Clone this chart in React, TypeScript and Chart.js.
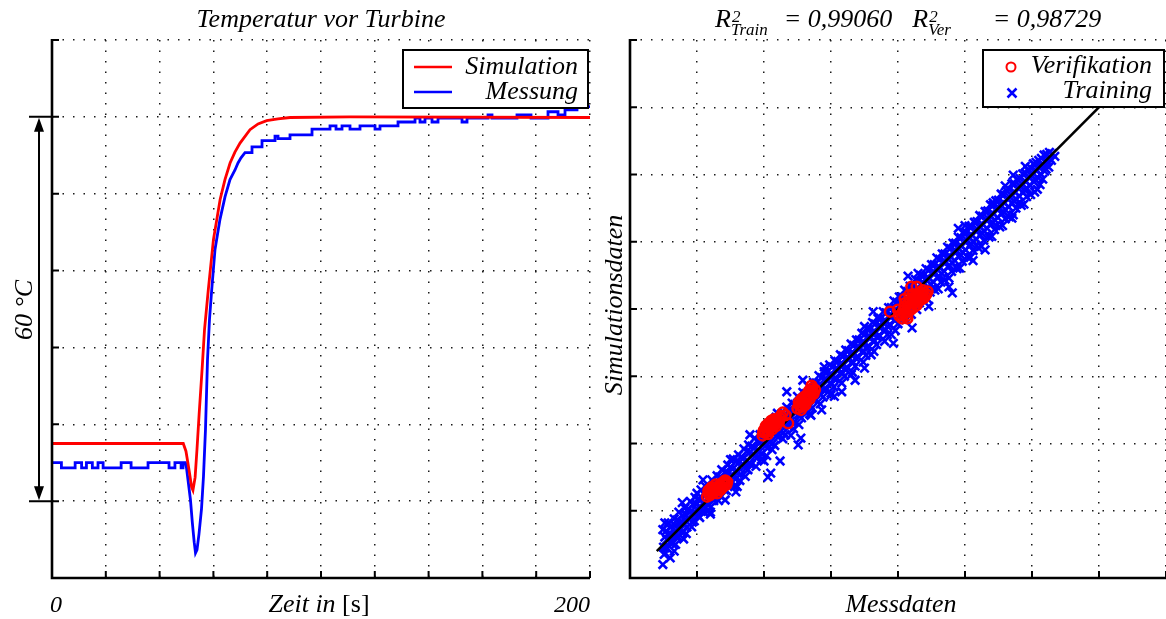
import React, { useEffect, useRef } from 'react';
import { Chart, registerables } from 'chart.js';

Chart.register(...registerables);

const SERIF = '"Liberation Serif", "Times New Roman", Times, serif';
const INK = '#000000';
const RED = '#ff0000';
const BLUE = '#0000ff';

/* ---------------- left panel: Temperatur vor Turbine ---------------- */
const leftTitle = 'Temperatur vor Turbine';
const timeMin = 0;
const timeMax = 200;
const timeStep = 20;
const timeTickLabels = ['0', '200'];
const timeAxisLabel = ['Zeit in ', '[s]'];
const tempMin = 0;
const tempMax = 84;
const tempStep = 12;
const spanValues = [12, 72];
const spanLabel = '60 °C';
const lineNames = ['Simulation', 'Messung'];

// [time s, temperature °C (relative)]
const simCurve: [number, number][] = [
  [0, 21.0], [48.8, 21.0], [49.8, 19.8], [50.9, 17.0], [51.9, 14.2], [52.4, 13.7],
  [53.2, 15.7], [53.9, 20.1], [54.7, 25.6], [55.8, 32.6], [56.7, 38.8], [58.1, 45.0],
  [60.0, 52.8], [62.5, 59.1], [64.3, 62.2], [66.2, 64.8], [68.0, 66.5], [69.9, 67.9],
  [73.6, 70.0], [76.6, 70.9], [79.8, 71.4], [84.0, 71.7], [88.5, 71.9], [110.8, 72.0],
  [200, 71.9],
];

const measCurve: [number, number][] = [
  [0, 18.0], [3.5, 18.0], [3.5, 17.2], [8.6, 17.2], [8.6, 18.0], [11.0, 18.0], [11.0, 17.2],
  [12.8, 17.2], [12.8, 18.0], [15.0, 18.0], [15.0, 17.2], [17.1, 17.2], [17.1, 18.0],
  [19.0, 18.0], [19.0, 17.2], [25.7, 17.2], [25.7, 18.0], [29.4, 18.0], [29.4, 17.2],
  [35.7, 17.2], [35.7, 18.0], [43.5, 18.0], [43.5, 17.2], [45.7, 17.2], [45.7, 18.0],
  [48.0, 18.0], [48.0, 17.2], [48.7, 17.2], [48.7, 18.0], [49.6, 18.0], [50.0, 17.2],
  [51.45, 12.3], [52.16, 8.7], [52.86, 5.6], [53.35, 3.9], [53.9, 4.4], [54.65, 6.9],
  [55.58, 10.8], [56.32, 15.9], [57.06, 23.2], [57.81, 34.1], [58.55, 40.4], [59.37, 45.0],
  [60.6, 51.3], [62.45, 56.0], [64.31, 59.5], [66.17, 62.2], [68.03, 63.7], [69.15, 64.8],
  [70.26, 65.6], [71.75, 66.4], [74.35, 66.4], [74.35, 67.3], [78.07, 67.3], [78.07, 68.3],
  [82.9, 68.3], [82.9, 69.0], [84.02, 69.0], [84.02, 68.6], [88.48, 68.6], [88.48, 69.2],
  [96.66, 69.2], [96.66, 70.1], [103.35, 70.1], [103.35, 70.6], [105.58, 70.6], [105.58, 70.1],
  [107.81, 70.1], [107.81, 70.6], [110.78, 70.6], [110.78, 70.1], [114.5, 70.1], [114.5, 70.6],
  [120.08, 70.6], [120.08, 70.1], [121.93, 70.1], [121.93, 70.6], [128.63, 70.6], [128.63, 71.2],
  [134.95, 71.2], [134.95, 71.8], [136.8, 71.8], [136.8, 71.2], [138.66, 71.2], [138.66, 71.8],
  [141.27, 71.8], [141.27, 71.2], [143.5, 71.2], [143.5, 71.8], [152.42, 71.8], [152.42, 71.2],
  [154.28, 71.2], [154.28, 71.8], [162.08, 71.8], [162.08, 72.3], [163.57, 72.3], [163.57, 71.8],
  [172.86, 71.8], [172.86, 72.3], [178.07, 72.3], [178.07, 71.8], [184.39, 71.8], [184.39, 72.8],
  [188.11, 72.8], [188.11, 72.3], [190.71, 72.3], [190.71, 73.1], [195.17, 73.1], [195.17, 73.6],
  [200, 73.6],
];

/* ---------------- right panel: parity plot ---------------- */
const r2Labels = ['Train', 'Ver'];
const r2Values = ['0,99060', '0,98729'];
const parityMin = 0;
const parityMax = 8;
const parityStep = 1;
const fitLine: [number, number][] = [[0.4, 0.4], [7.6, 7.6]];
const scatterNames = ['Verifikation', 'Training'];
const scatterAxes = ['Messdaten', 'Simulationsdaten'];

// [Messdaten, Simulationsdaten]
const verificationPoints: [number, number][] = [
  [1.15, 1.21], [1.18, 1.26], [1.21, 1.28], [1.24, 1.27], [1.26, 1.32], [1.29, 1.35],
  [1.31, 1.31], [1.34, 1.38], [1.37, 1.41], [1.40, 1.40], [1.42, 1.45], [1.45, 1.43],
  [1.17, 1.30], [1.22, 1.35], [1.30, 1.26], [1.38, 1.35],
  [1.19, 1.23], [1.23, 1.30], [1.27, 1.29], [1.33, 1.34], [1.36, 1.36], [1.41, 1.42],
  [1.28, 1.39], [1.35, 1.31], [1.44, 1.39], [1.20, 1.32],
  [1.98, 2.12], [2.01, 2.16], [2.04, 2.20], [2.06, 2.14], [2.08, 2.24], [2.10, 2.27],
  [2.12, 2.21], [2.14, 2.30], [2.16, 2.33], [2.18, 2.26], [2.20, 2.36], [2.23, 2.38],
  [2.03, 2.26], [2.11, 2.34], [2.28, 2.46], [2.36, 2.30], [2.32, 2.42],
  [2.00, 2.20], [2.05, 2.24], [2.07, 2.18], [2.09, 2.31], [2.13, 2.26], [2.15, 2.36],
  [2.17, 2.29], [2.19, 2.31], [2.22, 2.32], [2.25, 2.41], [2.06, 2.29], [1.99, 2.17],
  [2.50, 2.52], [2.53, 2.57], [2.55, 2.50], [2.57, 2.62], [2.60, 2.66], [2.62, 2.58],
  [2.64, 2.70], [2.66, 2.74], [2.68, 2.66], [2.70, 2.78], [2.72, 2.82], [2.74, 2.74],
  [2.71, 2.86], [2.58, 2.55],
  [2.52, 2.61], [2.56, 2.66], [2.59, 2.59], [2.61, 2.70], [2.63, 2.63], [2.65, 2.68],
  [2.67, 2.78], [2.69, 2.72], [2.73, 2.77], [2.76, 2.80], [2.55, 2.55],
  [3.88, 3.96], [4.00, 3.99], [4.05, 3.92], [4.08, 3.98], [4.10, 4.04], [4.13, 3.90],
  [4.15, 4.08], [4.18, 4.12], [4.20, 4.00], [4.23, 4.10], [4.25, 4.16], [4.28, 4.06],
  [4.30, 4.20], [4.33, 4.13], [4.36, 4.22], [4.38, 4.16], [4.42, 4.22], [4.20, 4.33],
  [4.28, 4.33], [4.10, 4.15], [4.14, 3.86],
  [4.06, 3.86], [4.09, 3.93], [4.11, 4.09], [4.16, 3.96], [4.18, 4.04], [4.21, 4.16],
  [4.24, 4.03], [4.26, 4.12], [4.29, 4.11], [4.31, 4.17], [4.34, 4.24], [4.37, 4.28],
  [4.40, 4.19], [4.44, 4.26], [4.12, 3.95], [4.17, 4.21], [4.22, 4.22], [4.02, 3.90],
];

const trainingPoints: [number, number][] = [
  [0.49, 0.72], [0.52, 0.61], [0.50, 0.46], [0.51, 0.35],
  [0.57, 0.82], [0.58, 0.66], [0.60, 0.54], [0.56, 0.44],
  [0.66, 0.88], [0.67, 0.78], [0.64, 0.62], [0.68, 0.50],
  [0.73, 0.98], [0.75, 0.83], [0.74, 0.71], [0.72, 0.61],
  [0.82, 1.04], [0.83, 0.94], [0.80, 0.81], [0.84, 0.66],
  [0.90, 1.14], [0.91, 0.99], [0.89, 0.87], [0.92, 0.76],
  [0.97, 1.20], [0.99, 1.10], [0.98, 0.95], [0.96, 0.85],
  [1.06, 1.31], [1.05, 1.15], [1.07, 1.04], [1.04, 0.90],
  [1.13, 1.36], [1.15, 1.26], [1.14, 1.11], [1.16, 0.99],
  [1.22, 1.46], [1.21, 1.32], [1.23, 1.20], [1.20, 1.05],
  [1.30, 1.52], [1.31, 1.41], [1.28, 1.26], [1.32, 1.15],
  [1.37, 1.61], [1.39, 1.47], [1.38, 1.35], [1.36, 1.21],
  [1.46, 1.68], [1.45, 1.57], [1.47, 1.42], [1.44, 1.30],
  [1.54, 1.77], [1.53, 1.62], [1.55, 1.51], [1.56, 1.36],
  [1.62, 1.83], [1.63, 1.72], [1.60, 1.56], [1.64, 1.45],
  [1.70, 1.92], [1.69, 1.78], [1.71, 1.66], [1.72, 1.51],
  [1.77, 1.98], [1.79, 1.87], [1.78, 1.71], [1.76, 1.61],
  [1.86, 2.08], [1.85, 1.93], [1.87, 1.81], [1.88, 1.66],
  [1.94, 2.13], [1.95, 2.02], [1.92, 1.87], [1.96, 1.76],
  [2.02, 2.23], [2.01, 2.08], [2.03, 1.97], [2.04, 1.82],
  [2.10, 2.29], [2.11, 2.18], [2.09, 2.02], [2.12, 1.91],
  [2.18, 2.39], [2.17, 2.23], [2.19, 2.12], [2.16, 1.97],
  [2.26, 2.44], [2.27, 2.33], [2.25, 2.18], [2.28, 2.07],
  [2.34, 2.54], [2.33, 2.39], [2.35, 2.28], [2.32, 2.13],
  [2.42, 2.60], [2.43, 2.49], [2.40, 2.33], [2.44, 2.22],
  [2.50, 2.70], [2.49, 2.55], [2.51, 2.43], [2.52, 2.28],
  [2.58, 2.76], [2.59, 2.64], [2.57, 2.49], [2.56, 2.38],
  [2.66, 2.85], [2.65, 2.70], [2.67, 2.59], [2.68, 2.44],
  [2.74, 2.91], [2.75, 2.80], [2.73, 2.65], [2.72, 2.53],
  [2.82, 3.01], [2.81, 2.86], [2.83, 2.74], [2.84, 2.59],
  [2.90, 3.07], [2.91, 2.96], [2.89, 2.80], [2.88, 2.69],
  [2.98, 3.17], [2.97, 3.01], [2.99, 2.90], [3.00, 2.75],
  [3.06, 3.23], [3.07, 3.11], [3.05, 2.96], [3.04, 2.84],
  [3.14, 3.32], [3.13, 3.17], [3.15, 3.06], [3.16, 2.90],
  [3.22, 3.39], [3.23, 3.27], [3.21, 3.11], [3.20, 3.00],
  [3.30, 3.48], [3.29, 3.33], [3.31, 3.21], [3.32, 3.06],
  [3.38, 3.54], [3.39, 3.43], [3.37, 3.27], [3.36, 3.15],
  [3.46, 3.64], [3.45, 3.49], [3.47, 3.37], [3.48, 3.21],
  [3.54, 3.70], [3.55, 3.59], [3.53, 3.43], [3.52, 3.31],
  [3.62, 3.80], [3.61, 3.64], [3.63, 3.52], [3.64, 3.37],
  [3.70, 3.86], [3.71, 3.74], [3.69, 3.58], [3.68, 3.47],
  [3.78, 3.96], [3.77, 3.80], [3.79, 3.68], [3.80, 3.52],
  [3.86, 4.02], [3.87, 3.90], [3.85, 3.74], [3.84, 3.62],
  [3.94, 4.12], [3.93, 3.96], [3.95, 3.84], [3.96, 3.68],
  [4.02, 4.18], [4.03, 4.06], [4.01, 3.90], [4.00, 3.78],
  [4.10, 4.28], [4.09, 4.12], [4.11, 4.00], [4.12, 3.84],
  [4.18, 4.34], [4.19, 4.22], [4.17, 4.06], [4.16, 3.93],
  [4.26, 4.44], [4.25, 4.28], [4.27, 4.16], [4.28, 3.99],
  [4.34, 4.50], [4.35, 4.38], [4.33, 4.21], [4.32, 4.09],
  [4.42, 4.60], [4.41, 4.44], [4.43, 4.31], [4.44, 4.15],
  [4.50, 4.66], [4.51, 4.54], [4.49, 4.37], [4.48, 4.25],
  [4.58, 4.76], [4.57, 4.60], [4.59, 4.47], [4.60, 4.30],
  [4.66, 4.82], [4.67, 4.70], [4.65, 4.53], [4.64, 4.40],
  [4.74, 4.92], [4.73, 4.76], [4.75, 4.63], [4.76, 4.46],
  [4.82, 4.98], [4.83, 4.86], [4.81, 4.69], [4.80, 4.56],
  [4.90, 5.07], [4.89, 4.91], [4.91, 4.78], [4.92, 4.61],
  [4.98, 5.13], [4.99, 5.01], [4.97, 4.84], [4.96, 4.71],
  [5.06, 5.23], [5.05, 5.07], [5.07, 4.94], [5.08, 4.77],
  [5.14, 5.29], [5.15, 5.17], [5.13, 5.00], [5.12, 4.87],
  [5.22, 5.39], [5.21, 5.23], [5.23, 5.10], [5.24, 4.93],
  [5.30, 5.45], [5.31, 5.33], [5.29, 5.16], [5.28, 5.02],
  [5.38, 5.55], [5.37, 5.39], [5.39, 5.26], [5.40, 5.08],
  [5.46, 5.61], [5.47, 5.49], [5.45, 5.32], [5.44, 5.18],
  [5.54, 5.71], [5.53, 5.55], [5.55, 5.42], [5.56, 5.24],
  [5.62, 5.76], [5.63, 5.64], [5.61, 5.47], [5.60, 5.34],
  [5.70, 5.86], [5.69, 5.70], [5.71, 5.57], [5.72, 5.40],
  [5.78, 5.92], [5.79, 5.80], [5.77, 5.63], [5.76, 5.50],
  [5.86, 6.01], [5.85, 5.86], [5.87, 5.73], [5.88, 5.56],
  [5.94, 6.07], [5.95, 5.96], [5.93, 5.79], [5.92, 5.67],
  [6.02, 6.16], [6.01, 6.02], [6.03, 5.89], [6.04, 5.74],
  [6.10, 6.21], [6.11, 6.10], [6.09, 5.95], [6.12, 5.85],
  [6.18, 6.29], [6.17, 6.15], [6.19, 6.05], [6.16, 5.93],
  [6.26, 6.33], [6.27, 6.23], [6.25, 6.11], [6.34, 6.27],
  [0.54, 0.70], [0.55, 0.57], [0.53, 0.45],
  [0.62, 0.77], [0.61, 0.66], [0.63, 0.51],
  [0.70, 0.86], [0.71, 0.73], [0.69, 0.61],
  [0.78, 0.93], [0.77, 0.82], [0.79, 0.68],
  [0.86, 1.02], [0.87, 0.89], [0.85, 0.76],
  [0.94, 1.09], [0.95, 0.98], [0.93, 0.83],
  [1.02, 1.18], [1.03, 1.05], [1.01, 0.93],
  [1.10, 1.25], [1.11, 1.14], [1.09, 0.99],
  [1.18, 1.34], [1.19, 1.21], [1.17, 1.09],
  [1.26, 1.41], [1.27, 1.30], [1.25, 1.15],
  [1.34, 1.50], [1.35, 1.37], [1.33, 1.24],
  [1.42, 1.57], [1.43, 1.46], [1.41, 1.31],
  [1.50, 1.65], [1.51, 1.53], [1.49, 1.39],
  [1.58, 1.73], [1.59, 1.60], [1.57, 1.47],
  [1.66, 1.80], [1.67, 1.69], [1.65, 1.54],
  [1.74, 1.88], [1.75, 1.75], [1.73, 1.63],
  [1.82, 1.96], [1.83, 1.84], [1.81, 1.69],
  [1.90, 2.03], [1.91, 1.91], [1.89, 1.78],
  [1.98, 2.11], [1.99, 1.99], [1.97, 1.85],
  [2.06, 2.19], [2.07, 2.06], [2.05, 1.93],
  [2.14, 2.26], [2.15, 2.15], [2.13, 2.00],
  [2.22, 2.35], [2.23, 2.21], [2.21, 2.09],
  [2.30, 2.42], [2.31, 2.30], [2.29, 2.16],
  [2.38, 2.50], [2.39, 2.37], [2.37, 2.25],
  [2.46, 2.58], [2.47, 2.46], [2.45, 2.32],
  [2.54, 2.66], [2.55, 2.53], [2.53, 2.41],
  [2.62, 2.74], [2.63, 2.62], [2.61, 2.48],
  [2.70, 2.82], [2.71, 2.69], [2.69, 2.57],
  [2.78, 2.90], [2.79, 2.78], [2.77, 2.64],
  [2.86, 2.98], [2.87, 2.85], [2.85, 2.73],
  [2.94, 3.06], [2.95, 2.94], [2.93, 2.80],
  [3.02, 3.14], [3.03, 3.01], [3.01, 2.89],
  [3.10, 3.22], [3.11, 3.10], [3.09, 2.96],
  [3.18, 3.30], [3.19, 3.17], [3.17, 3.05],
  [3.26, 3.38], [3.27, 3.26], [3.25, 3.12],
  [3.34, 3.46], [3.35, 3.33], [3.33, 3.21],
  [3.42, 3.54], [3.43, 3.42], [3.41, 3.28],
  [3.50, 3.62], [3.51, 3.49], [3.49, 3.37],
  [3.58, 3.70], [3.59, 3.58], [3.57, 3.44],
  [3.66, 3.78], [3.67, 3.65], [3.65, 3.53],
  [3.74, 3.86], [3.75, 3.74], [3.73, 3.60],
  [3.82, 3.94], [3.83, 3.81], [3.81, 3.69],
  [3.90, 4.02], [3.91, 3.90], [3.89, 3.76],
  [3.98, 4.10], [3.99, 3.97], [3.97, 3.85],
  [4.06, 4.18], [4.07, 4.06], [4.05, 3.92],
  [4.14, 4.26], [4.15, 4.13], [4.13, 4.01],
  [4.22, 4.34], [4.23, 4.22], [4.21, 4.08],
  [4.30, 4.42], [4.31, 4.29], [4.29, 4.17],
  [4.38, 4.50], [4.39, 4.38], [4.37, 4.24],
  [4.46, 4.58], [4.47, 4.45], [4.45, 4.33],
  [4.54, 4.66], [4.55, 4.54], [4.53, 4.40],
  [4.62, 4.74], [4.63, 4.61], [4.61, 4.49],
  [4.70, 4.82], [4.71, 4.70], [4.69, 4.56],
  [4.78, 4.90], [4.79, 4.77], [4.77, 4.65],
  [4.86, 4.98], [4.87, 4.86], [4.85, 4.72],
  [4.94, 5.06], [4.95, 4.93], [4.93, 4.81],
  [5.02, 5.14], [5.03, 5.02], [5.01, 4.88],
  [5.10, 5.22], [5.11, 5.09], [5.09, 4.97],
  [5.18, 5.30], [5.19, 5.18], [5.17, 5.04],
  [5.26, 5.38], [5.27, 5.25], [5.25, 5.13],
  [5.34, 5.46], [5.35, 5.34], [5.33, 5.20],
  [5.42, 5.54], [5.43, 5.41], [5.41, 5.29],
  [5.50, 5.62], [5.51, 5.50], [5.49, 5.36],
  [5.58, 5.70], [5.59, 5.57], [5.57, 5.45],
  [5.66, 5.78], [5.67, 5.66], [5.65, 5.52],
  [5.74, 5.86], [5.75, 5.73], [5.73, 5.61],
  [5.82, 5.94], [5.83, 5.82], [5.81, 5.68],
  [5.90, 6.02], [5.91, 5.89], [5.89, 5.77],
  [5.98, 6.10], [5.99, 5.98], [5.97, 5.84],
  [6.06, 6.18], [6.07, 6.05], [6.05, 5.93],
  [6.14, 6.24], [6.15, 6.13], [6.13, 6.01],
  [6.22, 6.30], [6.23, 6.19], [6.21, 6.08],
  [6.30, 6.31], [6.29, 6.21],
  [4.55, 4.28], [4.70, 4.43], [4.88, 4.60], [5.05, 4.76], [5.20, 4.91], [5.36, 5.07],
  [5.52, 5.22], [5.66, 5.37], [5.84, 5.54], [5.98, 5.70], [6.08, 5.78],
  [2.70, 2.42], [3.00, 2.72], [3.30, 3.02], [3.60, 3.32], [3.90, 3.62], [4.20, 3.92],
  [2.40, 2.12], [2.00, 1.74], [1.60, 1.36], [1.20, 0.98], [0.80, 0.58],
  [1.00, 1.26], [1.50, 1.76], [2.20, 2.45], [2.90, 3.14], [3.50, 3.74], [4.30, 4.53],
  [5.00, 5.24], [5.60, 5.83], [5.90, 6.12],
  [0.49, 0.20], [0.52, 0.82], [0.60, 0.30], [0.66, 0.40], [0.78, 1.12], [1.09, 1.46],
  [1.79, 2.13], [2.06, 1.50], [2.10, 1.56], [2.24, 1.74], [2.51, 1.98], [2.55, 2.08],
  [2.34, 2.77], [2.58, 2.94], [3.16, 2.77], [3.36, 2.94], [3.50, 3.12], [3.93, 3.49],
  [4.21, 3.72], [3.63, 3.96], [4.15, 4.49], [4.81, 4.24], [4.76, 4.33], [4.90, 5.20],
  [5.30, 4.88], [5.42, 5.58], [5.70, 5.35], [5.82, 5.58], [5.72, 5.99], [6.04, 6.14],
  [1.42, 1.16], [1.58, 1.28], [2.86, 2.50], [4.46, 4.04], [5.12, 4.72], [1.20, 0.95],
  [3.05, 2.70],
];

/* ---------------- helpers ---------------- */
const toXY = (pts: [number, number][]) => pts.map(([x, y]) => ({ x, y }));

function dottedScale(min: number, max: number, step: number) {
  return {
    type: 'linear',
    min,
    max,
    ticks: { stepSize: step, display: false },
    grid: { color: '#1a1a1a', lineWidth: 1.5, drawTicks: false },
    border: { display: false, dash: [1.5, 9] },
  };
}

function drawFrame(ctx: any, a: any, xs: any, ys: any) {
  ctx.save();
  ctx.strokeStyle = INK;
  ctx.lineCap = 'butt';
  ctx.lineJoin = 'miter';
  ctx.lineWidth = 2;
  ctx.beginPath();
  xs.ticks.forEach((t: any) => {
    const p = xs.getPixelForValue(t.value);
    ctx.moveTo(p, a.bottom);
    ctx.lineTo(p, a.bottom - 7);
  });
  ys.ticks.forEach((t: any) => {
    const p = ys.getPixelForValue(t.value);
    ctx.moveTo(a.left, p);
    ctx.lineTo(a.left + 7, p);
  });
  ctx.stroke();
  ctx.lineWidth = 2.6;
  ctx.beginPath();
  ctx.moveTo(a.left, a.top - 1);
  ctx.lineTo(a.left, a.bottom);
  ctx.lineTo(a.right, a.bottom);
  ctx.stroke();
  ctx.restore();
}

function drawMixed(ctx: any, parts: { text: string; font: string }[], cx: number, base: number) {
  let total = 0;
  parts.forEach((p) => {
    ctx.font = p.font;
    total += ctx.measureText(p.text).width;
  });
  let x = cx - total / 2;
  ctx.textAlign = 'left';
  parts.forEach((p) => {
    ctx.font = p.font;
    ctx.fillText(p.text, x, base);
    x += ctx.measureText(p.text).width;
  });
}

const BIG = `italic 26px ${SERIF}`;
const TICKF = `italic 24px ${SERIF}`;
const SMALL = `italic 17px ${SERIF}`;

/* ---------------- left plugin ---------------- */
const leftDecor = {
  id: 'leftDecor',
  afterDatasetsDraw(chart: any) {
    const { ctx, chartArea: a, scales } = chart;
    drawFrame(ctx, a, scales.x, scales.y);
  },
  afterDraw(chart: any) {
    const { ctx, chartArea: a, scales } = chart;
    const xs = scales.x;
    const ys = scales.y;
    ctx.save();
    ctx.fillStyle = INK;
    ctx.textBaseline = 'alphabetic';

    ctx.font = BIG;
    ctx.textAlign = 'center';
    ctx.fillText(leftTitle, (a.left + a.right) / 2, 27);

    ctx.font = TICKF;
    ctx.textAlign = 'left';
    ctx.fillText(timeTickLabels[0], xs.getPixelForValue(timeMin) - 2, 612);
    ctx.textAlign = 'right';
    ctx.fillText(timeTickLabels[1], xs.getPixelForValue(timeMax), 612);

    drawMixed(
      ctx,
      [
        { text: timeAxisLabel[0], font: BIG },
        { text: timeAxisLabel[1], font: `26px ${SERIF}` },
      ],
      (a.left + a.right) / 2 - 2,
      612,
    );

    const yTop = ys.getPixelForValue(spanValues[1]);
    const yBot = ys.getPixelForValue(spanValues[0]);
    const ax = 39;
    ctx.strokeStyle = INK;
    ctx.lineWidth = 2;
    ctx.beginPath();
    ctx.moveTo(29, yTop);
    ctx.lineTo(a.left, yTop);
    ctx.moveTo(29, yBot);
    ctx.lineTo(a.left, yBot);
    ctx.moveTo(ax, yTop + 10);
    ctx.lineTo(ax, yBot - 10);
    ctx.stroke();
    ctx.beginPath();
    ctx.moveTo(ax, yTop + 1);
    ctx.lineTo(ax - 5, yTop + 15);
    ctx.lineTo(ax + 5, yTop + 15);
    ctx.closePath();
    ctx.moveTo(ax, yBot - 1);
    ctx.lineTo(ax - 5, yBot - 15);
    ctx.lineTo(ax + 5, yBot - 15);
    ctx.closePath();
    ctx.fill();

    ctx.save();
    ctx.translate(32, (yTop + yBot) / 2 + 1);
    ctx.rotate(-Math.PI / 2);
    ctx.font = BIG;
    ctx.textAlign = 'center';
    ctx.fillText(spanLabel, 0, 0);
    ctx.restore();

    const bx = a.right - 187;
    const by = a.top + 10;
    const bw = 185;
    const bh = 58;
    ctx.fillStyle = '#ffffff';
    ctx.fillRect(bx, by, bw, bh);
    ctx.strokeStyle = INK;
    ctx.lineWidth = 2;
    ctx.strokeRect(bx, by, bw, bh);
    ctx.lineWidth = 2.5;
    [RED, BLUE].forEach((c, i) => {
      ctx.strokeStyle = c;
      ctx.beginPath();
      ctx.moveTo(bx + 11, by + 17 + i * 25);
      ctx.lineTo(bx + 49, by + 17 + i * 25);
      ctx.stroke();
    });
    ctx.fillStyle = INK;
    ctx.font = BIG;
    ctx.textAlign = 'right';
    ctx.fillText(lineNames[0], bx + bw - 10, by + 24);
    ctx.fillText(lineNames[1], bx + bw - 10, by + 49);
    ctx.restore();
  },
};

/* ---------------- right plugin ---------------- */
const rightDecor = {
  id: 'rightDecor',
  afterDatasetsDraw(chart: any) {
    const { ctx, chartArea: a, scales } = chart;
    drawFrame(ctx, a, scales.x, scales.y);
  },
  afterDraw(chart: any) {
    const { ctx, chartArea: a } = chart;
    ctx.save();
    ctx.fillStyle = INK;
    ctx.textBaseline = 'alphabetic';

    let x = 115;
    const base = 27;
    const block = (label: string, value: string, gapAfterSub: number) => {
      ctx.font = BIG;
      ctx.textAlign = 'left';
      ctx.fillText('R', x, base);
      x += ctx.measureText('R').width;
      ctx.font = SMALL;
      ctx.fillText('2', x + 1, base - 5);
      ctx.fillText(label, x, base + 8);
      x += ctx.measureText(label).width + gapAfterSub;
      ctx.font = BIG;
      const s = '= ' + value;
      ctx.fillText(s, x, base);
      x += ctx.measureText(s).width;
    };
    block(r2Labels[0], r2Values[0], 16);
    x += 20;
    block(r2Labels[1], r2Values[1], 42);

    ctx.font = BIG;
    ctx.textAlign = 'center';
    ctx.fillText(scatterAxes[0], (a.left + a.right) / 2 + 3, 612);
    ctx.save();
    ctx.translate(22, (a.top + a.bottom) / 2 - 4);
    ctx.rotate(-Math.PI / 2);
    ctx.fillText(scatterAxes[1], 0, 0);
    ctx.restore();

    const bx = a.right - 183;
    const by = a.top + 10;
    const bw = 182;
    const bh = 57;
    ctx.fillStyle = '#ffffff';
    ctx.fillRect(bx, by, bw, bh);
    ctx.strokeStyle = INK;
    ctx.lineWidth = 2;
    ctx.strokeRect(bx, by, bw - 1, bh);
    ctx.lineWidth = 2;
    ctx.strokeStyle = RED;
    ctx.beginPath();
    ctx.arc(bx + 28, by + 17, 4.5, 0, Math.PI * 2);
    ctx.stroke();
    ctx.strokeStyle = BLUE;
    ctx.lineWidth = 2.5;
    ctx.beginPath();
    const cx = bx + 29;
    const cy = by + 43;
    ctx.moveTo(cx - 4.5, cy - 4.5);
    ctx.lineTo(cx + 4.5, cy + 4.5);
    ctx.moveTo(cx + 4.5, cy - 4.5);
    ctx.lineTo(cx - 4.5, cy + 4.5);
    ctx.stroke();
    ctx.fillStyle = INK;
    ctx.font = BIG;
    ctx.textAlign = 'right';
    ctx.fillText(scatterNames[0], bx + bw - 13, by + 23);
    ctx.fillText(scatterNames[1], bx + bw - 13, by + 48);
    ctx.restore();
  },
};

/* ---------------- components ---------------- */
function LeftPanel() {
  const ref = useRef<HTMLCanvasElement>(null);
  useEffect(() => {
    const chart = new Chart(ref.current as HTMLCanvasElement, {
      type: 'scatter',
      data: {
        datasets: [
          {
            label: lineNames[0],
            data: toXY(simCurve),
            showLine: true,
            borderColor: RED,
            borderWidth: 2.8,
            pointRadius: 0,
            tension: 0,
          },
          {
            label: lineNames[1],
            data: toXY(measCurve),
            showLine: true,
            borderColor: BLUE,
            borderWidth: 2.8,
            pointRadius: 0,
            tension: 0,
          },
        ],
      },
      options: {
        responsive: false,
        animation: false,
        devicePixelRatio: 1,
        events: [],
        layout: { padding: { left: 52, right: 10, top: 40, bottom: 41 }, autoPadding: false },
        plugins: { legend: { display: false }, tooltip: { enabled: false }, title: { display: false } },
        scales: {
          x: dottedScale(timeMin, timeMax, timeStep),
          y: dottedScale(tempMin, tempMax, tempStep),
        },
      } as any,
      plugins: [leftDecor as any],
    });
    return () => chart.destroy();
  }, []);
  return (
    <canvas
      ref={ref}
      width={600}
      height={619}
      style={{ position: 'absolute', left: 0, top: 0, width: 600, height: 619 }}
    />
  );
}

function RightPanel() {
  const ref = useRef<HTMLCanvasElement>(null);
  useEffect(() => {
    const chart = new Chart(ref.current as HTMLCanvasElement, {
      type: 'scatter',
      data: {
        datasets: [
          {
            label: scatterNames[0],
            data: toXY(verificationPoints),
            pointStyle: 'circle',
            pointRadius: 5,
            pointBorderWidth: 2.5,
            pointBorderColor: RED,
            pointBackgroundColor: 'rgba(0,0,0,0)',
            borderColor: RED,
            backgroundColor: 'rgba(0,0,0,0)',
          },
          {
            label: 'fit',
            data: toXY(fitLine),
            showLine: true,
            borderColor: INK,
            borderWidth: 2.6,
            pointRadius: 0,
          },
          {
            label: scatterNames[1],
            data: toXY(trainingPoints),
            pointStyle: 'crossRot',
            pointRadius: 6,
            pointBorderWidth: 2.6,
            pointBorderColor: BLUE,
            borderColor: BLUE,
            backgroundColor: BLUE,
          },
        ],
      },
      options: {
        responsive: false,
        animation: false,
        devicePixelRatio: 1,
        events: [],
        layout: { padding: { left: 30, right: 0, top: 40, bottom: 41 }, autoPadding: false },
        plugins: { legend: { display: false }, tooltip: { enabled: false }, title: { display: false } },
        scales: {
          x: dottedScale(parityMin, parityMax, parityStep),
          y: dottedScale(parityMin, parityMax, parityStep),
        },
      } as any,
      plugins: [rightDecor as any],
    });
    return () => chart.destroy();
  }, []);
  return (
    <canvas
      ref={ref}
      width={566}
      height={619}
      style={{ position: 'absolute', left: 600, top: 0, width: 566, height: 619 }}
    />
  );
}

export default function App() {
  return (
    <div
      style={{
        position: 'absolute',
        left: 0,
        top: 0,
        width: 1166,
        height: 619,
        background: '#ffffff',
        overflow: 'hidden',
      }}
    >
      <LeftPanel />
      <RightPanel />
    </div>
  );
}
